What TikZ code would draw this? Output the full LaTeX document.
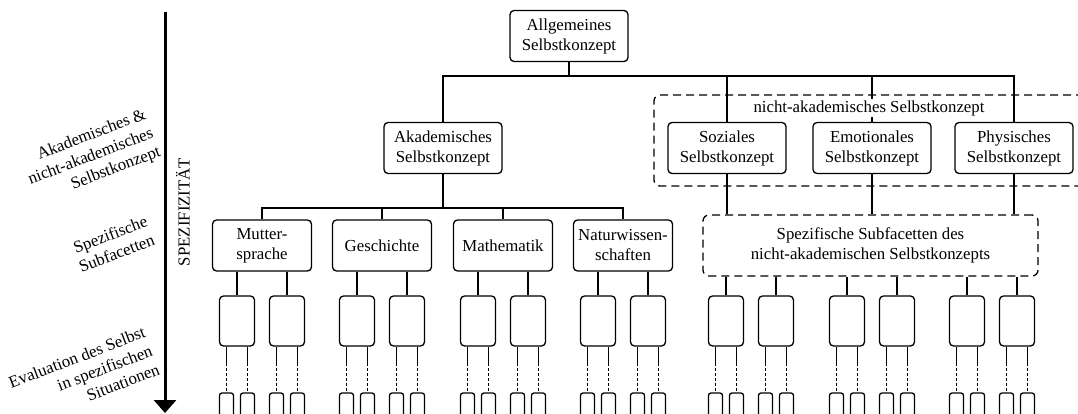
\documentclass[tikz,border=0pt]{standalone}
\usepackage{fontspec}
\setmainfont{Liberation Serif}
\usetikzlibrary{arrows.meta}

\begin{document}
\begin{tikzpicture}[
  x=1pt, y=-1pt,
  every node/.style={font=\fontsize{16.8}{20}\selectfont},
  conn/.style={line width=1.3pt},
  dots/.style={line width=1.5pt, dash pattern=on 3pt off 2pt},
  concept/.style={draw, line width=1.3pt, rounded corners=4pt, align=center,
    inner sep=0pt, minimum width=118pt, minimum height=51pt},
  subject/.style={concept, minimum width=99pt},
  situation/.style={draw, line width=1.3pt, rounded corners=4pt, inner sep=0pt,
    minimum width=35pt, minimum height=50pt},
  detail/.style={draw, line width=1.3pt, rounded corners=2.5pt, inner sep=0pt,
    minimum width=14pt, minimum height=26pt},
  groupbox/.style={draw, line width=1.3pt, rounded corners=6pt, inner sep=0pt,
    dash pattern=on 8pt off 5pt, align=center},
  levellabel/.style={rotate=21, align=right, inner sep=0pt},
]
\useasboundingbox (0,0) rectangle (1078,414);
\clip (0,0) rectangle (1078,414);

% specificity axis
\coordinate (axtop) at (165,12);
\coordinate (axbot) at (165,413);
\draw[line width=3pt, -{Triangle[width=22pt,length=13pt]}] (axtop) -- (axbot);
\node[rotate=90, inner sep=0pt] (axlabel) at (183,212) {SPEZIFIZITÄT};

% level labels
\node[levellabel] (lvl1) at (91,157) {Akademisches \&\\nicht-akademisches\\Selbstkonzept};
\node[levellabel] (lvl2) at (113,244) {Spezifische\\Subfacetten};
\node[levellabel] (lvl3) at (84,376) {Evaluation des Selbst\\in spezifischen\\Situationen};

% top level
\node[concept] (allg) at (569,36) {Allgemeines\\Selbstkonzept};

% second level
\node[concept] (akad) at (443,148) {Akademisches\\Selbstkonzept};
\node[concept] (soz)  at (727,148) {Soziales\\Selbstkonzept};
\node[concept] (emo)  at (872,148) {Emotionales\\Selbstkonzept};
\node[concept] (phys) at (1014,148) {Physisches\\Selbstkonzept};

% non-academic group
\node[groupbox, minimum width=436pt, minimum height=91pt] (nakbox) at (872,140.5) {};

% subjects
\node[subject] (mut) at (262,245.5) {Mutter-\\sprache};
\node[subject] (ges) at (382,245.5) {Geschichte};
\node[subject] (mat) at (503,245.5) {Mathematik};
\node[subject] (nat) at (623,245.5) {Naturwissen-\\schaften};

% non-academic subfacets
\node[groupbox, minimum width=335pt, minimum height=61pt] (subf) at (870.5,245.5)
  {Spezifische Subfacetten des\\nicht-akademischen Selbstkonzepts};

% connectors from the top
\coordinate (bus1) at (569,76);
\draw[conn] (allg.south) -- (bus1);
\draw[conn] (akad.north) |- (bus1) -| (phys.north);
\draw[conn] (soz.north) -- (soz.north |- bus1);
\draw[conn] (emo.north) -- (emo.north |- bus1);
\node[fill=white, inner sep=1pt] (naklabel) at (869,108) {nicht-akademisches Selbstkonzept};

% academic subjects
\coordinate (bus2) at (443,208);
\draw[conn] (akad.south) -- (bus2);
\draw[conn] (mut.north) |- (bus2) -| (nat.north);
\draw[conn] (ges.north) -- (ges.north |- bus2);
\draw[conn] (mat.north) -- (mat.north |- bus2);

% non-academic concepts to their subfacets
\draw[conn] (soz.south) -- (soz.south |- subf.north);
\draw[conn] (emo.south) -- (emo.south |- subf.north);
\draw[conn] (phys.south) -- (phys.south |- subf.north);

% situations below the academic subjects
\foreach \n/\x in {mut/262, ges/382, mat/503, nat/623} {
  \foreach \i/\d in {1/-25, 2/25} {
    \pgfmathsetmacro{\cx}{\x+\d}
    \node[situation] (\n-\i) at (\cx,321) {};
    \draw[conn] (\n.south -| \n-\i) -- (\n-\i.north);
    \foreach \j/\e in {a/-10.5, b/10.5} {
      \pgfmathsetmacro{\tx}{\cx+\e}
      \node[detail] (\n-\i\j) at (\tx,406) {};
      \coordinate (\n-\i\j-m) at (\tx,363);
      \draw[conn] (\n-\i.south -| \n-\i\j) -- (\n-\i\j-m);
      \draw[dots] (\n-\i\j-m) -- (\n-\i\j.north);
    }
  }
}

% situations below the non-academic subfacets
\foreach \k/\x in {1/726, 2/776, 3/847, 4/897, 5/967, 6/1017} {
  \node[situation] (s-\k) at (\x,321) {};
  \draw[conn] (subf.south -| s-\k) -- (s-\k.north);
  \foreach \j/\e in {a/-10.5, b/10.5} {
    \pgfmathsetmacro{\tx}{\x+\e}
    \node[detail] (s-\k\j) at (\tx,406) {};
    \coordinate (s-\k\j-m) at (\tx,363);
    \draw[conn] (s-\k.south -| s-\k\j) -- (s-\k\j-m);
    \draw[dots] (s-\k\j-m) -- (s-\k\j.north);
  }
}
\end{tikzpicture}
\end{document}
